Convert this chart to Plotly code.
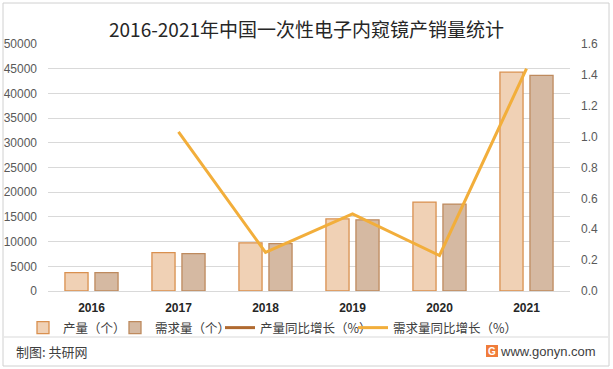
import plotly.graph_objects as go

years = ["2016", "2017", "2018", "2019", "2020", "2021"]
production = [3700, 7750, 9750, 14600, 18000, 44300]
demand = [3700, 7550, 9600, 14400, 17600, 43650]
production_growth = [None, None, None, None, None, None]
demand_growth = [None, 1.03, 0.25, 0.50, 0.23, 1.44]

left_ticks = list(range(0, 50001, 5000))
right_ticks = [0.0, 0.2, 0.4, 0.6, 0.8, 1.0, 1.2, 1.4, 1.6]

cjk = "Noto Sans CJK SC"
L, R, T, B = 48, 43, 44, 78
W, H = 613, 369
PW, PH = W - L - R, H - T - B


def px(x):
    return (x - L) / PW


def py(y):
    return (H - B - y) / PH


fig = go.Figure()
fig.add_trace(go.Bar(x=years, y=production, name="产量（个）", legend="legend",
                     marker=dict(color="#F0D1B5", line=dict(color="#D9904F", width=1.3))))
fig.add_trace(go.Bar(x=years, y=demand, name="需求量（个）", legend="legend2",
                     marker=dict(color="#D5B9A2", line=dict(color="#BE8A5E", width=1.3))))
fig.add_trace(go.Scatter(x=years, y=production_growth, name="产量同比增长（%）", yaxis="y2",
                         legend="legend3", mode="lines", line=dict(color="#B06A30", width=3)))
fig.add_trace(go.Scatter(x=years, y=demand_growth, name="需求量同比增长（%）", yaxis="y2",
                         legend="legend4", mode="lines", line=dict(color="#F2AE3B", width=3)))

leg_font = dict(size=12.5, color="#404040", family=cjk)


def leg(text_start):
    return dict(orientation="h", x=px(text_start - 42), xanchor="left", y=py(328),
                yanchor="middle", font=leg_font, itemwidth=30, bgcolor="rgba(0,0,0,0)")


fig.update_layout(
    width=W, height=H,
    margin=dict(l=L, r=R, t=T, b=B, autoexpand=False),
    paper_bgcolor="white", plot_bgcolor="white",
    font=dict(family=cjk, color="#595959", size=12),
    barmode="group", bargap=0.31, bargroupgap=0.23,
    title=dict(text="2016-2021年中国一次性电子内窥镜产销量统计", x=0.5, xanchor="center",
               y=1 - 30 / H, yanchor="middle", font=dict(size=19, color="#262626", family=cjk)),
    xaxis=dict(type="category", tickmode="array", tickvals=years, ticktext=years,
               showgrid=False, showline=True, linecolor="#D9D9D9",
               ticks="", tickfont=dict(size=12, color="#262626", family="Liberation Sans", weight="bold"),
               ticklabelstandoff=6),
    yaxis=dict(range=[0, 50000], tickvals=left_ticks, ticktext=[str(v) for v in left_ticks],
               showgrid=True, gridcolor="#D9D9D9", zeroline=False, ticks="",
               tickfont=dict(size=12, color="#595959", family="Liberation Sans Narrow, Liberation Sans"),
               ticklabelstandoff=10),
    yaxis2=dict(range=[0, 1.6], tickvals=right_ticks, ticktext=[f"{v:.1f}" for v in right_ticks],
                overlaying="y", side="right", showgrid=False, zeroline=False, ticks="",
                tickfont=dict(size=12, color="#595959", family="Liberation Sans Narrow, Liberation Sans"),
                ticklabelstandoff=10),
    legend=leg(65), legend2=leg(157), legend3=leg(262), legend4=leg(395),
    showlegend=True,
)

# bottom separator and frame
fig.add_shape(type="line", xref="paper", yref="paper", x0=px(4), x1=px(608),
              y0=py(337), y1=py(337), line=dict(color="#D9D9D9", width=1))
fig.add_shape(type="rect", xref="paper", yref="paper",
              x0=px(3), x1=px(609), y0=py(366), y1=py(3),
              line=dict(color="#D0D0D0", width=1))

fig.add_annotation(text="制图: 共研网", xref="paper", yref="paper",
                   x=px(14), y=py(351), xanchor="left", yanchor="middle",
                   showarrow=False, font=dict(size=13, color="#404040", family=cjk))
fig.add_annotation(text="www.gonyn.com", xref="paper", yref="paper",
                   x=px(598), y=py(351), xanchor="right", yanchor="middle",
                   showarrow=False, font=dict(size=13, color="#404040", family="Liberation Sans"))
fig.add_shape(type="rect", xref="paper", yref="paper",
              x0=px(486), x1=px(498), y0=py(357), y1=py(345),
              line=dict(width=0), fillcolor="#F07C3A")
fig.add_annotation(text="<b>G</b>", xref="paper", yref="paper",
                   x=px(492), y=py(351), xanchor="center", yanchor="middle",
                   showarrow=False, font=dict(size=10, color="white", family="Liberation Sans"))

fig.write_html("out.html", config={"displayModeBar": False},
               post_script="document.body.style.margin='0';")
